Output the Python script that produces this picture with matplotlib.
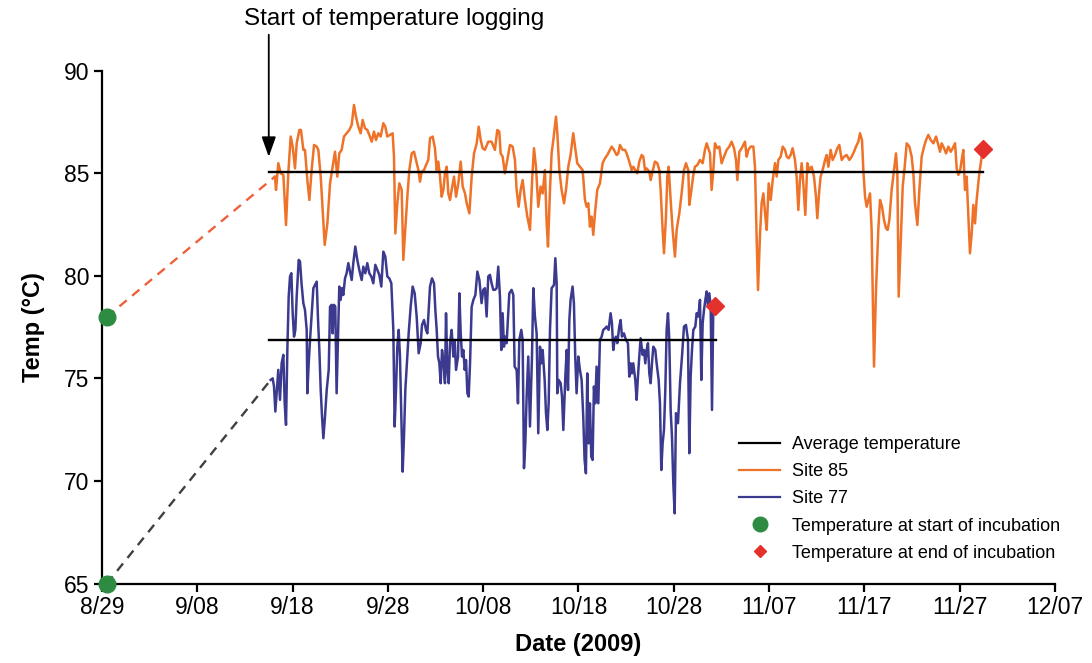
import matplotlib
matplotlib.use("Agg")
import matplotlib.pyplot as plt
from matplotlib.lines import Line2D

plt.rcParams['font.family'] = ['Liberation Sans', 'DejaVu Sans']

# x values are days after 8/29/2009
tick_days = [0, 10, 20, 30, 40, 50, 60, 70, 80, 90, 100]
tick_labels = ['8/29', '9/08', '9/18', '9/28', '10/08', '10/18', '10/28',
               '11/07', '11/17', '11/27', '12/07']

site85_day = [
    18.15, 18.26, 18.50, 18.75, 19.03, 19.31, 19.55, 19.80, 20.01, 20.25,
    20.43, 20.71, 20.88, 21.13, 21.30, 21.55, 21.76, 22.00, 22.25, 22.53,
    22.70, 22.95, 23.23, 23.37, 23.65, 23.93, 24.20, 24.45, 24.69, 24.90,
    25.15, 25.39, 25.67, 25.95, 26.20, 26.44, 26.65, 26.90, 27.14, 27.35,
    27.60, 27.84, 28.05, 28.30, 28.54, 28.75, 29.00, 29.24, 29.52, 29.73,
    29.94, 30.22, 30.50, 30.64, 30.78, 30.99, 31.20, 31.45, 31.62, 31.80,
    32.04, 32.25, 32.50, 32.74, 32.95, 33.20, 33.37, 33.55, 33.79, 34.00,
    34.24, 34.42, 34.70, 34.94, 35.12, 35.29, 35.47, 35.64, 35.82, 35.99,
    36.17, 36.34, 36.52, 36.69, 36.94, 37.15, 37.39, 37.64, 37.85, 38.09,
    38.27, 38.55, 38.79, 39.04, 39.32, 39.53, 39.74,
    39.94, 40.18, 40.53, 40.88, 41.23, 41.48, 41.69, 41.83, 42.04, 42.28,
    42.53, 42.81, 43.09, 43.33, 43.51, 43.72, 43.93, 44.14, 44.38, 44.63,
    44.91, 45.15, 45.33, 45.54, 45.78, 46.03, 46.24, 46.48, 46.66, 46.80,
    47.01, 47.18, 47.36, 47.64, 47.78, 47.99, 48.23, 48.48, 48.69, 48.93,
    49.17, 49.45, 49.66, 49.87, 50.15, 50.43, 50.68, 50.85, 51.03, 51.20,
    51.38, 51.55, 51.73, 51.97, 52.25, 52.53, 52.78, 53.02, 53.30, 53.48,
    53.72, 54.00, 54.18, 54.35, 54.63, 54.88, 55.05, 55.33, 55.58, 55.75,
    55.96, 56.17, 56.38, 56.63, 56.80, 56.98, 57.15, 57.43, 57.57, 57.78,
    58.02, 58.27, 58.48, 58.62, 58.83, 58.97, 59.18, 59.32, 59.46, 59.67,
    59.88, 60.12, 60.30, 60.58, 60.82, 61.07, 61.28, 61.52, 61.63, 61.80,
    62.05, 62.22, 62.47,
    62.75, 63.03, 63.27, 63.45, 63.62, 63.80, 63.97, 64.15, 64.32, 64.57,
    64.78, 65.02, 65.27, 65.55, 65.83, 66.07, 66.32, 66.53, 66.67, 66.88,
    67.12, 67.30, 67.47, 67.65, 67.82, 68.07, 68.35, 68.52, 68.70, 68.84,
    69.05, 69.22, 69.40, 69.61, 69.75, 69.96, 70.17, 70.38, 70.62, 70.80,
    70.97, 71.22, 71.43, 71.67, 71.85, 72.05, 72.26, 72.47, 72.72, 72.89,
    73.07, 73.24, 73.42, 73.59, 73.80, 74.01, 74.22, 74.47, 74.71, 74.92,
    75.06, 75.27, 75.41, 75.62, 75.87, 76.04, 76.22, 76.46, 76.67, 76.92,
    77.16, 77.37, 77.62, 77.86, 78.14, 78.42, 78.67, 78.91, 79.12, 79.37,
    79.54, 79.75, 79.89, 80.07, 80.24, 80.42, 80.59, 80.76, 80.87, 81.01,
    81.22, 81.46, 81.64, 81.85, 82.06, 82.27, 82.44, 82.62, 82.86, 83.11,
    83.32, 83.46, 83.60, 83.81, 84.02, 84.23, 84.44, 84.72, 84.96, 85.14,
    85.31, 85.56, 85.77, 86.01, 86.26, 86.47, 86.71, 86.96, 87.24, 87.52,
    87.76, 87.94, 88.11, 88.36, 88.57, 88.81, 89.06, 89.27, 89.51, 89.69,
    89.86, 90.03, 90.21, 90.38, 90.56, 90.73, 90.91, 91.08, 91.26, 91.43,
    91.61, 91.78, 92.06, 92.31, 92.41,
]
site85_temp = [
    84.84, 84.19, 85.49, 85.00, 84.92, 82.48, 85.00, 86.79, 86.30, 85.24,
    86.46, 87.11, 87.11, 86.14, 86.14, 84.67, 83.70, 85.16, 86.38, 86.30,
    86.14, 84.84, 82.56, 81.51, 82.56, 84.51, 85.32, 86.05, 84.84, 85.97,
    86.14, 86.79, 86.95, 87.11, 87.35, 88.33, 87.76, 87.27, 86.95, 87.60,
    87.19, 87.11, 86.87, 86.54, 87.03, 86.62, 86.95, 86.79, 87.44, 87.27,
    86.79, 86.87, 86.95, 85.81, 82.07, 83.54, 84.51, 84.19, 80.78, 82.07,
    83.86, 85.16, 85.97, 86.05, 85.65, 85.16, 84.59, 85.08, 85.16, 85.40,
    85.65, 86.71, 86.79, 86.22, 85.16, 85.57, 84.84, 83.86, 84.19, 85.00,
    85.32, 84.02, 83.70, 84.19, 84.84, 83.86, 84.51, 85.57, 84.35, 84.02,
    83.54, 83.05, 84.84, 85.97, 86.46, 87.27, 86.62,
    86.22, 86.14, 86.54, 86.54, 86.14, 87.11, 87.03, 85.97, 85.81, 85.00,
    85.65, 86.38, 86.30, 85.65, 84.19, 83.37, 84.19, 84.67, 83.70, 82.89,
    82.24, 84.84, 86.22, 85.32, 83.37, 84.35, 84.02, 85.16, 82.56, 81.43,
    84.19, 85.97, 86.62, 87.76, 86.95, 85.16, 84.19, 83.54, 84.19, 85.32,
    85.89, 86.95, 86.22, 85.49, 85.32, 85.16, 83.70, 83.37, 83.54, 82.40,
    82.89, 82.00, 83.05, 84.19, 84.51, 85.49, 85.73, 85.89, 86.14, 86.30,
    86.14, 85.89, 85.97, 86.38, 86.14, 86.14, 85.97, 85.57, 85.16, 85.32,
    85.16, 85.00, 85.57, 85.89, 85.81, 85.16, 85.24, 85.08, 84.67, 85.08,
    85.57, 85.49, 85.16, 84.19, 82.24, 81.10, 82.89, 84.84, 85.32, 83.70,
    82.24, 80.94, 82.24, 83.05, 84.02, 85.16, 85.49, 85.16, 83.46, 84.02,
    84.92, 85.32, 85.40,
    85.65, 85.49, 86.14, 86.46, 86.22, 85.97, 84.19, 85.16, 86.46, 86.22,
    86.30, 85.49, 85.81, 86.14, 86.30, 86.54, 86.22, 85.65, 84.67, 86.05,
    86.22, 86.38, 86.54, 85.81, 86.14, 86.30, 86.30, 85.32, 81.75, 79.31,
    82.07, 83.54, 84.02, 82.89, 82.24, 84.51, 83.70, 84.67, 85.49, 84.84,
    85.65, 85.81, 86.30, 86.14, 85.81, 85.73, 85.89, 86.22, 85.65, 84.84,
    83.21, 84.67, 85.49, 84.51, 82.97, 85.49, 85.16, 85.32, 84.84, 83.86,
    82.81, 84.19, 84.84, 85.16, 85.65, 85.89, 85.32, 86.14, 85.65, 85.89,
    86.22, 86.38, 85.65, 85.81, 85.89, 85.65, 85.81, 86.05, 86.30, 86.54,
    86.95, 86.62, 85.16, 83.86, 83.37, 83.70, 84.02, 82.24, 79.31, 75.58,
    79.31, 82.24, 83.70, 83.37, 82.72, 82.32, 82.24, 82.72, 84.19, 85.16,
    85.97, 85.00, 78.99, 81.59, 84.35, 85.32, 86.46, 86.30, 85.81, 85.00,
    83.54, 82.48, 84.19, 85.81, 86.30, 86.62, 86.87, 86.62, 86.46, 86.79,
    86.38, 86.05, 86.46, 86.22, 85.97, 86.30, 86.05, 86.22, 86.46, 85.24,
    84.92, 85.08, 85.65, 86.14, 84.19, 84.84, 82.89, 81.10, 82.07, 83.46,
    82.56, 83.70, 85.00, 85.81, 86.20,
]

site77_day = [
    17.70, 17.91, 18.05, 18.19, 18.33, 18.50, 18.68, 18.85, 19.03, 19.17,
    19.31, 19.45, 19.59, 19.73, 19.87, 20.01, 20.15, 20.29, 20.43, 20.64,
    20.78, 20.95, 21.13, 21.30, 21.48, 21.55, 21.69, 21.83, 22.04, 22.18,
    22.35, 22.53, 22.67, 22.81, 22.95, 23.09, 23.23, 23.40, 23.58, 23.79,
    23.93, 24.10, 24.20, 24.34, 24.48, 24.62, 24.80, 24.90, 25.04, 25.18,
    25.32, 25.50, 25.67, 25.85, 26.02, 26.20, 26.37, 26.58, 26.79, 27.00,
    27.25, 27.42, 27.63, 27.84, 28.05, 28.26, 28.47, 28.68, 28.89, 29.10,
    29.31, 29.52, 29.73, 29.94, 30.15, 30.36, 30.57, 30.71, 30.85, 30.99,
    31.13, 31.27, 31.41, 31.55, 31.69, 31.83, 31.97, 32.18, 32.39, 32.60,
    32.81, 33.02, 33.23, 33.44, 33.58, 33.79, 34.00, 34.14, 34.28, 34.42,
    34.63, 34.84, 34.98, 35.12, 35.26, 35.40, 35.54, 35.68, 35.82, 35.99,
    36.10, 36.24, 36.38, 36.52, 36.69, 36.87, 37.01, 37.15, 37.36, 37.50,
    37.64, 37.78, 37.92, 38.06, 38.20, 38.34, 38.48, 38.62, 38.79, 38.97,
    39.18, 39.39, 39.60,
    39.83, 40.01, 40.18, 40.36, 40.53, 40.71, 40.88, 41.06, 41.23, 41.41,
    41.58, 41.76, 41.90, 42.04, 42.18, 42.32, 42.46, 42.74, 42.98, 43.16,
    43.30, 43.51, 43.65, 43.79, 44.00, 44.14, 44.28, 44.42, 44.56, 44.73,
    44.91, 45.12, 45.26, 45.43, 45.61, 45.78, 45.96, 46.10, 46.24, 46.45,
    46.59, 46.73, 46.87, 47.01, 47.18, 47.43, 47.57, 47.71, 47.78, 47.92,
    48.13, 48.27, 48.41, 48.62, 48.76, 48.90, 49.04, 49.17, 49.38, 49.52,
    49.66, 49.80, 49.98, 50.15, 50.33, 50.50, 50.64, 50.78, 50.92, 51.06,
    51.20, 51.34, 51.48, 51.62, 51.76, 51.90, 52.08, 52.25, 52.43, 52.60,
    52.81, 52.95, 53.16, 53.37, 53.51, 53.65, 53.79, 53.93, 54.07, 54.28,
    54.42, 54.56, 54.77, 54.98, 55.19, 55.33, 55.47, 55.61, 55.75, 55.96,
    56.10, 56.24, 56.38, 56.52, 56.73, 56.87, 57.01, 57.15, 57.29, 57.43,
    57.57, 57.71, 57.85, 58.06, 58.20, 58.41, 58.55, 58.69, 58.83, 58.97,
    59.11, 59.25, 59.39, 59.53, 59.67, 59.81, 59.95, 60.09, 60.23, 60.44,
    60.65, 60.86, 61.07, 61.28, 61.49, 61.63, 61.77, 61.91, 62.05, 62.26,
    62.40, 62.57, 62.75, 62.89, 63.03, 63.17, 63.31, 63.45, 63.59, 63.73,
    63.87, 64.01, 64.15, 64.32,
]
site77_temp = [
    74.93, 75.01, 74.61, 73.39, 74.28, 75.42, 73.96, 75.74, 76.15, 73.79,
    72.74, 76.39, 78.99, 79.97, 80.13, 78.18, 77.04, 77.37, 78.99, 80.78,
    80.70, 79.56, 78.67, 78.34, 77.37, 74.28, 75.74, 76.88, 78.42, 79.40,
    79.56, 79.72, 77.85, 76.39, 74.44, 73.14, 72.09, 73.14, 74.44, 75.42,
    78.50, 78.59, 77.20, 78.59, 78.50, 74.28, 77.53, 79.48, 78.83, 79.40,
    79.07, 79.88, 80.13, 80.62, 80.21, 79.80, 80.62, 81.43, 80.78, 80.29,
    79.80, 80.45, 80.13, 80.62, 80.13, 79.97, 79.64, 80.54, 80.29, 80.05,
    79.48, 81.18, 80.94, 79.97, 79.88, 79.64, 77.37, 72.66, 74.44, 76.55,
    77.37, 76.07, 73.14, 70.46, 72.17, 74.44, 75.58, 77.20, 78.50, 79.48,
    79.15, 78.02, 76.23, 76.72, 77.61, 77.85, 77.37, 77.20, 78.34, 79.48,
    79.88, 79.64, 78.34, 77.37, 76.07, 75.74, 74.77, 76.39, 75.90, 74.77,
    78.18, 75.42, 74.77, 76.72, 77.37, 76.07, 76.88, 75.42, 76.07, 79.15,
    77.20, 76.07, 76.39, 75.42, 75.90, 74.28, 74.12, 75.74, 78.50, 78.83,
    79.07, 80.21, 79.80,
    78.67, 79.32, 79.40, 78.02, 79.97, 80.05, 79.64, 79.32, 79.32, 79.40,
    80.45, 78.99, 76.39, 78.18, 76.55, 77.04, 76.72, 79.15, 79.32, 79.07,
    75.58, 75.42, 73.79, 76.88, 77.37, 76.88, 70.63, 71.84, 74.12, 76.07,
    72.66, 76.07, 79.40, 78.02, 77.20, 72.33, 76.55, 75.74, 76.39, 74.93,
    73.31, 72.49, 73.79, 77.37, 79.40, 79.56, 80.86, 79.64, 74.28, 74.93,
    74.77, 74.12, 72.49, 75.09, 76.39, 74.44, 77.85, 78.83, 79.48, 78.67,
    76.07, 74.28, 76.07, 75.42, 74.93, 73.14, 71.03, 70.38, 75.25, 71.84,
    73.79, 71.19, 71.03, 74.61, 73.79, 75.58, 73.79, 76.88, 77.04, 77.37,
    77.45, 77.53, 77.37, 78.18, 77.69, 76.39, 76.88, 77.04, 76.72, 77.53,
    77.85, 77.04, 77.20, 76.88, 76.72, 75.09, 75.74, 75.25, 75.74, 74.93,
    73.96, 75.09, 76.07, 76.96, 76.15, 76.39, 75.74, 76.39, 76.72, 75.25,
    74.77, 75.74, 76.55, 76.39, 75.74, 74.93, 73.79, 70.54, 71.84, 72.49,
    74.44, 77.37, 78.18, 76.88, 73.47, 72.17, 69.89, 68.43, 73.31, 72.82,
    74.77, 76.07, 77.53, 77.61, 76.88, 71.36, 75.09, 76.39, 77.37, 77.53,
    78.18, 78.02, 78.83, 74.93, 77.69, 78.34, 78.83, 79.24, 78.50, 79.15,
    78.50, 73.47, 78.67, 78.53,
]

# incubation start (8/29) and end readings
start_day = 0.5
start_temp = [78.0, 65.0]          # site 85, site 77
end_day = [92.41, 64.32]
end_temp = [86.2, 78.53]

# averages over the logged period
avg_start = 17.5
avg_end = [92.41, 64.43]
avg_temp = [85.05, 76.88]

logging_day = 17.5

orange = '#EE7228'
blue = '#3B3A8F'
green = '#2E8C42'
red = '#E5312B'

fig = plt.figure(figsize=(10.92, 6.63), dpi=100)
ax = fig.add_axes([0.0934, 0.1196, 0.8727, 0.7738])

# dashed links from the start-of-incubation readings to the first logged value
ax.plot([start_day, site85_day[0]], [start_temp[0], site85_temp[0]],
        ls=(0, (4, 3)), color='#F0603A', lw=1.7, zorder=2)
ax.plot([start_day, site77_day[0]], [start_temp[1], site77_temp[0]],
        ls=(0, (4, 3)), color='#404040', lw=1.7, zorder=2)

ax.plot(site85_day, site85_temp, color=orange, lw=1.8, zorder=3)
ax.plot(site77_day, site77_temp, color=blue, lw=1.8, zorder=3)

for e, t in zip(avg_end, avg_temp):
    ax.plot([avg_start, e], [t, t], color='black', lw=1.7, zorder=4)

ax.plot([start_day] * 2, start_temp, 'o', color=green, ms=12, zorder=6, clip_on=False)
ax.plot(end_day, end_temp, 'D', color=red, ms=9.5, zorder=6, clip_on=False)

ax.set_xlim(0, 100)
ax.set_ylim(65, 90)
ax.set_xticks(tick_days)
ax.set_xticklabels(tick_labels)
ax.set_yticks([65, 70, 75, 80, 85, 90])
for s in ['top', 'right']:
    ax.spines[s].set_visible(False)
for s in ['left', 'bottom']:
    ax.spines[s].set_linewidth(1.6)
ax.tick_params(labelsize=16.5, width=1.6, length=6, direction='out', pad=3)

ax.set_xlabel('Date (2009)', fontsize=17, fontweight='bold', labelpad=10)
ax.set_ylabel('Temp (\u00b0C)', fontsize=17, fontweight='bold', labelpad=14)

ax.annotate('', xy=(logging_day, 85.8), xytext=(logging_day, 91.75),
            annotation_clip=False,
            arrowprops=dict(arrowstyle='-|>,head_length=0.87,head_width=0.31',
                            mutation_scale=14, color='black', lw=1.3,
                            shrinkA=0, shrinkB=0))
ax.text(14.9, 92.5, 'Start of temperature logging', fontsize=17.5,
        ha='left', va='center', clip_on=False)

handles = [
    Line2D([], [], color='black', lw=1.6),
    Line2D([], [], color=orange, lw=1.6),
    Line2D([], [], color=blue, lw=1.6),
    Line2D([], [], ls='none', marker='o', color=green, ms=10.5),
    Line2D([], [], ls='none', marker='D', color=red, ms=6.5),
]
labels = ['Average temperature', 'Site 85', 'Site 77',
          'Temperature at start of incubation', 'Temperature at end of incubation']
ax.legend(handles, labels, loc='upper left', bbox_to_anchor=(0.6767, 0.342),
          bbox_transform=fig.transFigure, frameon=False, fontsize=13,
          borderpad=0, borderaxespad=0, handlelength=2.3, handletextpad=0.65,
          labelspacing=0.56)

fig.savefig('out.png', dpi=100)
